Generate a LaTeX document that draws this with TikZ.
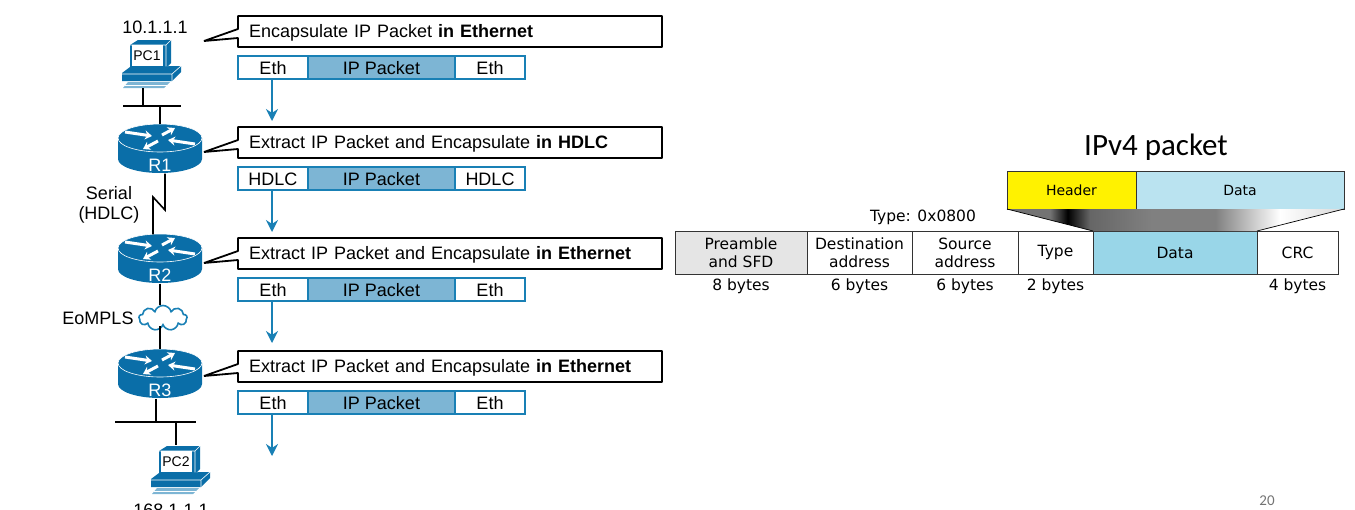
\documentclass[tikz,border=0pt]{standalone}
\usepackage{fontspec}
\usetikzlibrary{arrows.meta}
\usetikzlibrary{positioning}
\usetikzlibrary{shapes.symbols}
\setmainfont{Liberation Sans}
\newfontfamily\framefont{DejaVu Sans}
\newfontfamily\slidefont{Carlito}
\definecolor{mblue}{rgb}{0.04, 0.43, 0.66}
\definecolor{mframe}{rgb}{0.10, 0.50, 0.71}
\definecolor{mpacket}{rgb}{0.49, 0.71, 0.83}
\definecolor{mdata}{rgb}{0.60, 0.84, 0.91}
\definecolor{mlight}{rgb}{0.73, 0.89, 0.94}
\pgfdeclarehorizontalshading{mbridge}{100bp}{
    color(0bp)=(black!55); color(25bp)=(black!55); color(31.4bp)=(black!55);
    color(34bp)=(black); color(37.3bp)=(black!60); color(46.2bp)=(black!50);
    color(55.9bp)=(black!50); color(65.5bp)=(white); color(75bp)=(black!15);
    color(100bp)=(black!15)}
\tikzset{
    x=1pt, y=-1pt,
    txt/.style={font=\fontsize{18}{20}\selectfont, inner sep=0pt},
    eth/.style={font=\framefont\fontsize{15.5}{18}\selectfont, inner sep=0pt, align=center},
    callbox/.style={txt, anchor=north west, minimum height=31pt, text width=402pt, inner xsep=11pt, align=left, outer sep=0pt},
    calledge/.style={draw=black, line width=1.8pt, fill=white, line join=bevel},
    framecell/.style={txt, draw=mframe, line width=1.6pt, anchor=north west, minimum height=23pt, text height=14pt, text depth=0pt, fill=white, outer sep=0pt},
    flow/.style={draw=mframe, line width=1.6pt, -{Stealth[length=12pt, width=12pt]}},
    wire/.style={draw=black, line width=1.6pt},
    slot/.style={eth, draw=black!80, line width=0.7pt, anchor=north west, minimum height=43pt, outer sep=0pt},
    routerspot/.style={minimum width=84pt, minimum height=49pt, inner sep=0pt},
    pcspot/.style={minimum width=60pt, minimum height=48pt, inner sep=0pt},
    routertip/.style={draw=white, line width=3pt, -{Stealth[length=7pt, width=9pt]}},
    routericon/.pic={
        \fill [mblue] (-42, 0) -- (-42, 21) arc [start angle=180, end angle=360, x radius=42pt, y radius=14pt] -- (42, 0) -- cycle;
        \draw [white, line width=0.6pt, fill=mblue] (0, 0) ellipse [x radius=42pt, y radius=14pt];
        \draw [routertip] (-35, -6) -- (-8, -2);
        \draw [routertip] (2, -3) -- (15, -10);
        \draw [routertip] (35, 6) -- (8, 2);
        \draw [routertip] (-2, 3) -- (-17, 11);
    },
    pcicon/.pic={
        \fill [mblue] (-17, -11) -- (-9, -16) -- (24, -16) -- (24, 7) -- (19, 12) -- (-17, 12) -- cycle;
        \draw [white, line width=0.6pt] (-17, -11) -- (19, -11) -- (24, -16) (19, -11) -- (19, 12);
        \fill [white] (-15, -11) rectangle (16, 10);
        \fill [mblue] (-25, 17) -- (-17, 11) -- (34, 10) -- (34, 16) -- (25, 25) -- (-25, 25) -- cycle;
        \draw [white, line width=0.6pt] (-25, 18) -- (25, 18) -- (34, 10) (25, 18) -- (25, 25);
        \fill [mpacket] (-19, 26) -- (23, 26) -- (17, 32) -- (-24, 32) -- cycle;
        \draw [white, line width=0.6pt] (-22, 29) -- (20, 29);
    }
}

\begin{document}
\begin{tikzpicture}
    \useasboundingbox (0, 0) rectangle (1355, 509);

    % frames and callouts
    \foreach \n/\y/\outer/\what in {
        1/56/Eth/{Encapsulate IP Packet \textbf{in Ethernet}},
        2/167/HDLC/{Extract IP Packet and Encapsulate \textbf{in HDLC}},
        3/278/Eth/{Extract IP Packet and Encapsulate \textbf{in Ethernet}},
        4/391/Eth/{Extract IP Packet and Encapsulate \textbf{in Ethernet}}} {
        \node (call\n) [callbox] at (238, \y-40) {};
        \coordinate (tip\n) at (204, \y-15);
        \draw [calledge] (call\n.north west) -- (call\n.north east) -- (call\n.south east) -- (call\n.south west) -- ([yshift=-22pt]call\n.north west) -- (tip\n) -- ([yshift=-13pt]call\n.north west) -- cycle;
        \node (what\n) [callbox] at (238, \y-38.5) {\what};
        \node (head\n) [framecell, minimum width=70pt] at (238, \y) {\outer};
        \node (ip\n) [framecell, minimum width=147pt, fill=mpacket] at (head\n.north east) {IP Packet};
        \node (tail\n) [framecell, minimum width=70pt] at (ip\n.north east) {\outer};
        \coordinate (end\n) at (272, \y+65);
        \draw [flow] (head\n.south -| end\n) -- (end\n);
    }

    % routers and hosts
    \foreach \n/\y in {1/149, 2/259, 3/374} {
        \node (r\n) [routerspot] at (160, \y) {};
        \pic at (160, \y-11) {routericon};
        \node (r\n lab) [txt, white] at (160, \y+16) {R\n};
    }
    \node (pc1) [pcspot] at (152, 64) {};
    \pic at (147, 56) {pcicon};
    \node (pc1lab) [txt, font=\fontsize{14}{16}\selectfont] at (147, 56) {PC1};
    \node (pc2) [pcspot] at (181, 469) {};
    \pic at (176, 462) {pcicon};
    \node (pc2lab) [txt, font=\fontsize{14}{16}\selectfont] at (176, 462) {PC2};

    \node (addr1) [txt] at (155, 27) {10.1.1.1};
    \node (addr2) [txt] at (171, 510) {168.1.1.1};
    \node (serial) [txt, align=center] at (109, 205) {Serial\\(HDLC)};
    \node (eompls) [txt] at (98, 318) {EoMPLS};
    \node (mpls) [cloud, cloud puffs=9, aspect=2, draw=mframe, line width=1.6pt, fill=white, minimum width=48pt, minimum height=25pt, inner sep=0pt] at (163, 318) {};

    % links
    \coordinate (lan1a) at (123, 106);
    \coordinate (lan1b) at (181, 106);
    \coordinate (lan2a) at (115, 422);
    \coordinate (lan2b) at (196, 422);
    \coordinate (zig1) at (165, 210);
    \coordinate (zig2) at (153, 197);
    \draw [wire] (lan1a) -- (lan1b);
    \draw [wire] (lan2a) -- (lan2b);
    \draw [wire] ([xshift=-9pt]pc1.south) -- ([xshift=-9pt]pc1.south |- lan1a);
    \draw [wire] (r1.north) -- (r1.north |- lan1a);
    \draw [wire] ([xshift=5pt]r1.south) -- (zig1) -- (zig2) -- ([xshift=-7pt]r2.north);
    \draw [wire] (r2.south) -- (mpls.north -| r2.south);
    \draw [wire] (mpls.south -| r3.north) -- (r3.north);
    \draw [wire] ([xshift=-4pt]r3.south) -- ([xshift=-4pt]r3.south |- lan2a);
    \draw [wire] ([xshift=-5pt]pc2.north) -- ([xshift=-5pt]pc2.north |- lan2a);

    % ethernet frame
    \node (title) [inner sep=0pt, font=\slidefont\fontsize{31}{34}\selectfont] at (1156, 147) {IPv4 packet};
    \node (preamble) [slot, minimum width=132pt, fill=black!10] at (675, 231) {Preamble\\and SFD};
    \node (dest) [slot, minimum width=105pt] at (preamble.north east) {Destination\\address};
    \node (source) [slot, minimum width=106pt] at (dest.north east) {Source\\address};
    \node (type) [slot, minimum width=75pt] at (source.north east) {Type};
    \node (data) [slot, minimum width=164pt, fill=mdata] at (type.north east) {Data};
    \node (crc) [slot, minimum width=81pt] at (data.north east) {CRC};

    \node (header) [slot, minimum width=129pt, minimum height=38pt, fill=yellow, font=\framefont\fontsize{14}{18}\selectfont] at (1007, 171) {Header};
    \node (payload) [slot, minimum width=208pt, minimum height=38pt, fill=mlight, font=\framefont\fontsize{14}{18}\selectfont] at (header.north east) {Data};
    \shade [shading=mbridge] (header.south west) -- (payload.south east) -- (data.north east) -- (data.north west) -- cycle;
    \draw [draw=black, line width=0.7pt] (header.south west) -- (data.north west);
    \draw [draw=black, line width=0.7pt] (payload.south east) -- (data.north east);

    \node (typeval) [eth] at (923, 217) {Type: 0x0800};
    \node (bytes1) [eth, below=5pt of preamble] {8 bytes};
    \node (bytes2) [eth, below=5pt of dest] {6 bytes};
    \node (bytes3) [eth, below=5pt of source] {6 bytes};
    \node (bytes4) [eth, below=5pt of type] {2 bytes};
    \node (bytes5) [eth, below=5pt of crc] {4 bytes};

    \node (page) [inner sep=0pt, black!55, font=\slidefont\fontsize{15}{17}\selectfont] at (1267, 501) {20};
\end{tikzpicture}
\end{document}
